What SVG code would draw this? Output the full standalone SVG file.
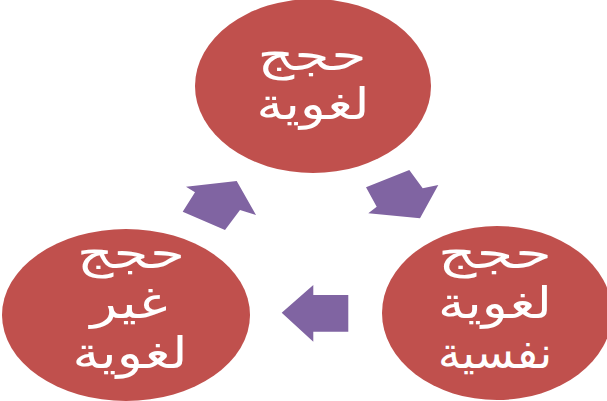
<svg xmlns="http://www.w3.org/2000/svg" width="607" height="401" viewBox="0 0 607 401">
<style>
.c{fill:#C0504D}
.a{fill:#8064A2}
.t{fill:#fff;font-family:"DejaVu Sans",sans-serif;font-size:44px;text-anchor:middle;direction:rtl}
</style>
<rect width="607" height="401" fill="#fff"/>
<g id="connectors">
<polygon class="a" points="236.7,181 256,215 240,210 225,230 182.7,211.7 195,192.3 186,186.7"/>
<polygon class="a" points="409.3,170 422.7,188.3 438.3,185 420,218.3 368.3,213.3 376.7,206.7 366,187.3"/>
<polygon class="a" points="281.7,312.7 313.3,285 313.3,295 348.3,295 348.3,331.7 313.3,331.7 313.3,341.7"/>
</g>
<g id="node-top">
<ellipse class="c" cx="313" cy="86" rx="118" ry="87"/>
<text class="t" x="312" y="70" textLength="109" lengthAdjust="spacingAndGlyphs">حجج</text>
<text class="t" x="313" y="119" textLength="113" lengthAdjust="spacingAndGlyphs">لغوية</text>
</g>
<g id="node-left">
<ellipse class="c" cx="126" cy="315" rx="124" ry="86"/>
<text class="t" x="131" y="268" textLength="108" lengthAdjust="spacingAndGlyphs">حجج</text>
<text class="t" x="129" y="318" textLength="77" lengthAdjust="spacingAndGlyphs">غير</text>
<text class="t" x="130" y="368" textLength="115" lengthAdjust="spacingAndGlyphs">لغوية</text>
</g>
<g id="node-right">
<ellipse class="c" cx="497" cy="313" rx="115" ry="87"/>
<text class="t" x="495" y="268" textLength="114" lengthAdjust="spacingAndGlyphs">حجج</text>
<text class="t" x="495" y="318" textLength="114" lengthAdjust="spacingAndGlyphs">لغوية</text>
<text class="t" x="495" y="368" textLength="114" lengthAdjust="spacingAndGlyphs">نفسية</text>
</g>
</svg>
